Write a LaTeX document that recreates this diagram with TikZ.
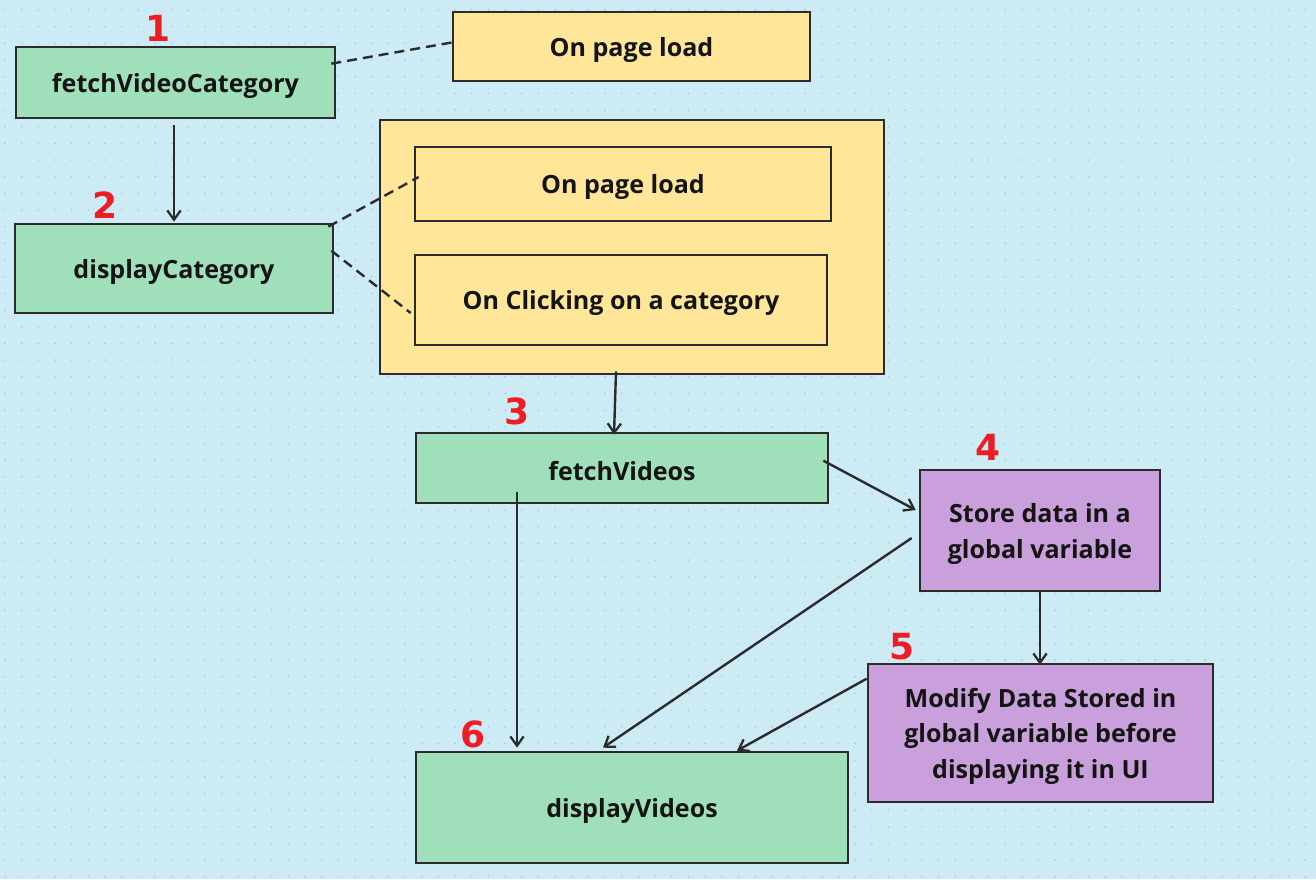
\documentclass[tikz,border=0pt]{standalone}
\usepackage{fontspec}
\setmainfont{Open Sans}
\newfontfamily\numfont{DejaVu Sans}
\usetikzlibrary{fit,calc,arrows.meta}
\definecolor{bgblue}{HTML}{CDEBF5}
\definecolor{dotc}{HTML}{AECBD5}
\definecolor{boxgreen}{HTML}{9FE0BA}
\definecolor{boxyellow}{HTML}{FFE699}
\definecolor{boxpurple}{HTML}{C9A0DC}
\definecolor{edgec}{HTML}{2B2B2B}
\definecolor{numred}{HTML}{EE1C25}
\tikzset{
  box/.style={draw=edgec, line width=2pt, inner sep=0pt},
  boxtext/.style={align=center, inner sep=0pt, yshift=-2.5pt,
    font=\bfseries\fontsize{18.8}{26.5}\selectfont, text=black!92},
  gbox/.style={box, fill=boxgreen},
  ybox/.style={box, fill=boxyellow},
  pbox/.style={box, fill=boxpurple},
  numlbl/.style={text=numred, font=\numfont\bfseries\fontsize{27}{29}\selectfont, inner sep=0pt},
  arr/.style={draw=edgec, line width=1.8pt, -{Straight Barb[length=7pt,width=10pt,line width=1.7pt]}},
  dashlink/.style={draw=edgec, line width=1.8pt, dash pattern=on 7.5pt off 4.5pt},
}
\begin{document}
\begin{tikzpicture}[x=0.75pt,y=-0.75pt]
\fill[bgblue] (0,0) rectangle (1316,879);
\useasboundingbox (0,0) rectangle (1316,879);
\foreach \i in {0,...,78} {
  \foreach \j in {0,...,52} {
    \fill[dotc] ({5+16.67*\i},{10+16.67*\j}) circle (0.7pt);
  }
}
% container
\node[ybox, fit={(380,120)(884,374)}] (cont) {};
% boxes
\node[gbox, fit={(16,47)(335,118)}, label={[boxtext]center:fetchVideoCategory}] (fvc) {};
\node[gbox, fit={(15,224)(333,313)}, label={[boxtext]center:displayCategory}] (disp) {};
\node[ybox, fit={(453,12)(810,81)}, label={[boxtext]center:On page load}] (opl1) {};
\node[ybox, fit={(415,147)(831,221)}, label={[boxtext]center:On page load}] (opl2) {};
\node[ybox, fit={(415,255)(827,345)}, label={[boxtext]center:On Clicking on a category}] (click) {};
\node[gbox, fit={(416,433)(828,503)}, label={[boxtext]center:fetchVideos}] (fv) {};
\node[pbox, fit={(920,470)(1160,591)}, label={[boxtext]center:Store data in a\\global variable}] (store) {};
\node[pbox, fit={(868,664)(1213,802)}, label={[boxtext]center:Modify Data Stored in\\global variable before\\displaying it in UI}] (mod) {};
\node[gbox, fit={(416,752)(848,863)}, label={[boxtext]center:displayVideos}] (dv) {};
% numbers
\node[numlbl] (n1) at (158,28) {1};
\node[numlbl] (n2) at (105,205) {2};
\node[numlbl] (n3) at (517,411) {3};
\node[numlbl] (n4) at (988,447) {4};
\node[numlbl] (n5) at (902,647) {5};
\node[numlbl] (n6) at (473,734) {6};
% connectors
\draw[dashlink] ($(fvc.north east)+(-5,18)$) -- ($(opl1.west)+(0,-4)$);
\draw[arr] ($(fvc.south)+(-1.5,6)$) -- ($(disp.north)+(0,-1)$);
\draw[dashlink] ($(disp.north east)+(-6,4)$) -- ($(opl2.west)+(5,-7)$);
\draw[dashlink] ($(disp.north east)+(-3,28)$) -- ($(click.west)+(-3,13)$);
\draw[arr] ($(cont.south)+(-16,-4)$) -- ($(fv.north)+(-8,3)$);
\draw[arr] ($(fv.north east)+(-6,29)$) -- ($(store.west)+(-3,-20.5)$);
\draw[arr] ($(fv.south)+(-105,-12)$) -- ($(dv.north)+(-115,-3)$);
\draw[arr] ($(store.west)+(-7,7.5)$) -- ($(dv.north)+(-29,-3)$);
\draw[arr] (store.south) -- ($(mod.north)+(-0.5,2)$);
\draw[arr] ($(mod.north west)+(0,16)$) -- ($(dv.north)+(105,0)$);
\end{tikzpicture}
\end{document}
